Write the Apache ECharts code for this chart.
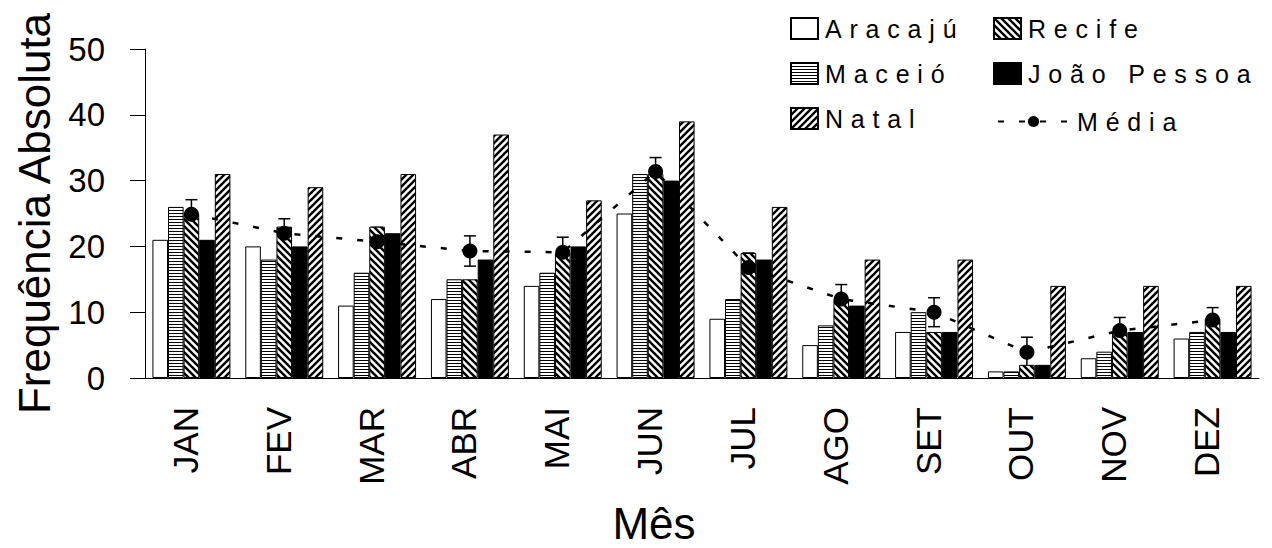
<!DOCTYPE html>
<html>
<head>
<meta charset="utf-8">
<script src="https://cdn.jsdelivr.net/npm/echarts@6/dist/echarts.min.js"></script>
<style>
  html, body { margin: 0; padding: 0; background: #fff; }
  #chart { width: 1272px; height: 548px; }
  /* legend labels use wide tracking (they are the only 25px texts) */
  #chart text[style*="25px"] { letter-spacing: 7.8px; }
</style>
</head>
<body>
<div id="chart"></div>
<script>
// Monthly absolute frequency per capital city
const months = ['JAN', 'FEV', 'MAR', 'ABR', 'MAI', 'JUN', 'JUL', 'AGO', 'SET', 'OUT', 'NOV', 'DEZ'];
const aracaju    = [21, 20, 11, 12, 14, 25,  9,  5,  7,  1,  3,  6];
const maceio     = [26, 18, 16, 15, 16, 31, 12,  8, 10,  1,  4,  7];
const recife     = [25, 23, 23, 15, 19, 31, 19, 12,  7,  2,  7,  9];
const joaoPessoa = [21, 20, 22, 18, 20, 30, 18, 11,  7,  2,  7,  7];
const natal      = [31, 29, 31, 37, 27, 39, 26, 18, 18, 14, 14, 14];
// monthly mean and its error-bar half width
const media      = [24.9, 22, 20.7, 19.3, 19.1, 31.4, 16.8, 12, 10, 3.9, 7.2, 8.8];
const erro       = [2.2, 2.2, 2.2, 2.3, 2.3, 2.1, 2.2, 2.2, 2.2, 2.3, 2.0, 1.9];
const yTicks     = { min: 0, max: 50, step: 10 };

const FONT = 'Liberation Sans, Arial, sans-serif';

// hatch tiles for the bar fills
function hatch(kind) {
  const c = document.createElement('canvas');
  const g = c.getContext('2d');
  if (kind === 'horizontal') {
    c.width = 4; c.height = 3;
    g.fillStyle = '#fff'; g.fillRect(0, 0, 4, 3);
    g.fillStyle = '#000'; g.fillRect(0, 0, 4, 1);
    return { image: c, repeat: 'repeat', imageWidth: 4, imageHeight: 3 };
  }
  const s = 7;
  c.width = s; c.height = s;
  g.fillStyle = '#fff'; g.fillRect(0, 0, s, s);
  g.strokeStyle = '#000'; g.lineWidth = 2.4;
  const segs = kind === 'back'
    ? [[-1, -1, s + 1, s + 1], [-1, s - 1, 1, s + 1], [s - 1, -1, s + 1, 1]]
    : [[-1, s + 1, s + 1, -1], [-1, 1, 1, -1], [s - 1, s + 1, s + 1, s - 1]];
  segs.forEach(([x1, y1, x2, y2]) => {
    g.beginPath(); g.moveTo(x1, y1); g.lineTo(x2, y2); g.stroke();
  });
  return { image: c, repeat: 'repeat', imageWidth: s, imageHeight: s };
}

const barBase = {
  type: 'bar',
  barGap: '0%',
  barCategoryGap: '16%',
  emphasis: { disabled: true }
};
function barSeries(name, data, color) {
  return Object.assign({}, barBase, {
    name, data,
    itemStyle: { color, borderColor: '#000', borderWidth: 1 }
  });
}

const legendText = { fontSize: 25, fontFamily: FONT, color: '#000', padding: [0, 0, 0, 2] };

const chart = echarts.init(document.getElementById('chart'), null, { renderer: 'svg' });
chart.setOption({
  animation: false,
  backgroundColor: '#fff',
  grid: { left: 145, right: 13, top: 49, bottom: 170, outerBoundsMode: 'none' },
  legend: [
    {
      left: 785, top: 11, orient: 'vertical', itemGap: 20,
      itemWidth: 27, itemHeight: 21, icon: 'rect',
      data: ['Aracajú', 'Maceió', 'Natal'], textStyle: legendText, selectedMode: false
    },
    {
      left: 988, top: 11, orient: 'vertical', itemGap: 20,
      itemWidth: 27, itemHeight: 21, icon: 'rect',
      data: ['Recife', 'João Pessoa'], textStyle: legendText, selectedMode: false
    },
    {
      left: 992, top: 104, orient: 'vertical',
      itemWidth: 71, itemHeight: 14,
      data: ['Média'], textStyle: Object.assign({}, legendText, { padding: [0, 0, 0, 3] }),
      selectedMode: false
    }
  ],
  xAxis: {
    type: 'category',
    data: months,
    boundaryGap: true,
    axisLine: { lineStyle: { color: '#000', width: 1 } },
    axisTick: { length: 12, lineStyle: { color: '#000', width: 1 } },
    axisLabel: {
      rotate: 90, interval: 0, margin: 29, fontSize: 35, fontFamily: FONT, color: '#000',
      verticalAlign: 'bottom', lineHeight: 12
    },
    name: 'Mês',
    nameLocation: 'middle',
    nameGap: 128,
    nameTextStyle: {
      fontSize: 44, fontFamily: FONT, color: '#000', lineHeight: 34, padding: [0, 96, 0, 0]
    }
  },
  yAxis: {
    type: 'value',
    min: yTicks.min, max: yTicks.max, interval: yTicks.step,
    axisLine: { show: true, lineStyle: { color: '#000', width: 1 } },
    axisTick: { show: true, length: 15, lineStyle: { color: '#000', width: 1 } },
    splitLine: { show: false },
    axisLabel: { margin: 40, fontSize: 33, fontFamily: FONT, color: '#000' },
    name: 'Frequência Absoluta',
    nameLocation: 'middle',
    nameGap: 89,
    nameTextStyle: { fontSize: 44, fontFamily: FONT, color: '#000' }
  },
  series: [
    barSeries('Aracajú', aracaju, '#fff'),
    barSeries('Maceió', maceio, hatch('horizontal')),
    barSeries('Recife', recife, hatch('back')),
    barSeries('João Pessoa', joaoPessoa, '#000'),
    barSeries('Natal', natal, hatch('forward')),
    {
      name: 'erro',
      type: 'custom',
      silent: true,
      data: months.map((m, i) => [i, media[i] - erro[i], media[i] + erro[i]]),
      encode: { x: 0, y: [1, 2] },
      renderItem(params, api) {
        const i = api.value(0);
        const hi = api.coord([i, api.value(2)]);
        const lo = api.coord([i, api.value(1)]);
        const half = 6;
        const st = { stroke: '#000', lineWidth: 1.5, fill: null };
        return {
          type: 'group',
          children: [
            { type: 'line', shape: { x1: hi[0], y1: hi[1], x2: lo[0], y2: lo[1] }, style: st },
            { type: 'line', shape: { x1: hi[0] - half, y1: hi[1], x2: hi[0] + half, y2: hi[1] }, style: st },
            { type: 'line', shape: { x1: lo[0] - half, y1: lo[1], x2: lo[0] + half, y2: lo[1] }, style: st }
          ]
        };
      }
    },
    {
      name: 'Média',
      type: 'line',
      data: media,
      symbol: 'circle',
      symbolSize: 15,
      itemStyle: { color: '#000' },
      lineStyle: { color: '#000', width: 2.5, type: [6, 15] },
      emphasis: { disabled: true }
    }
  ]
});
</script>
</body>
</html>
